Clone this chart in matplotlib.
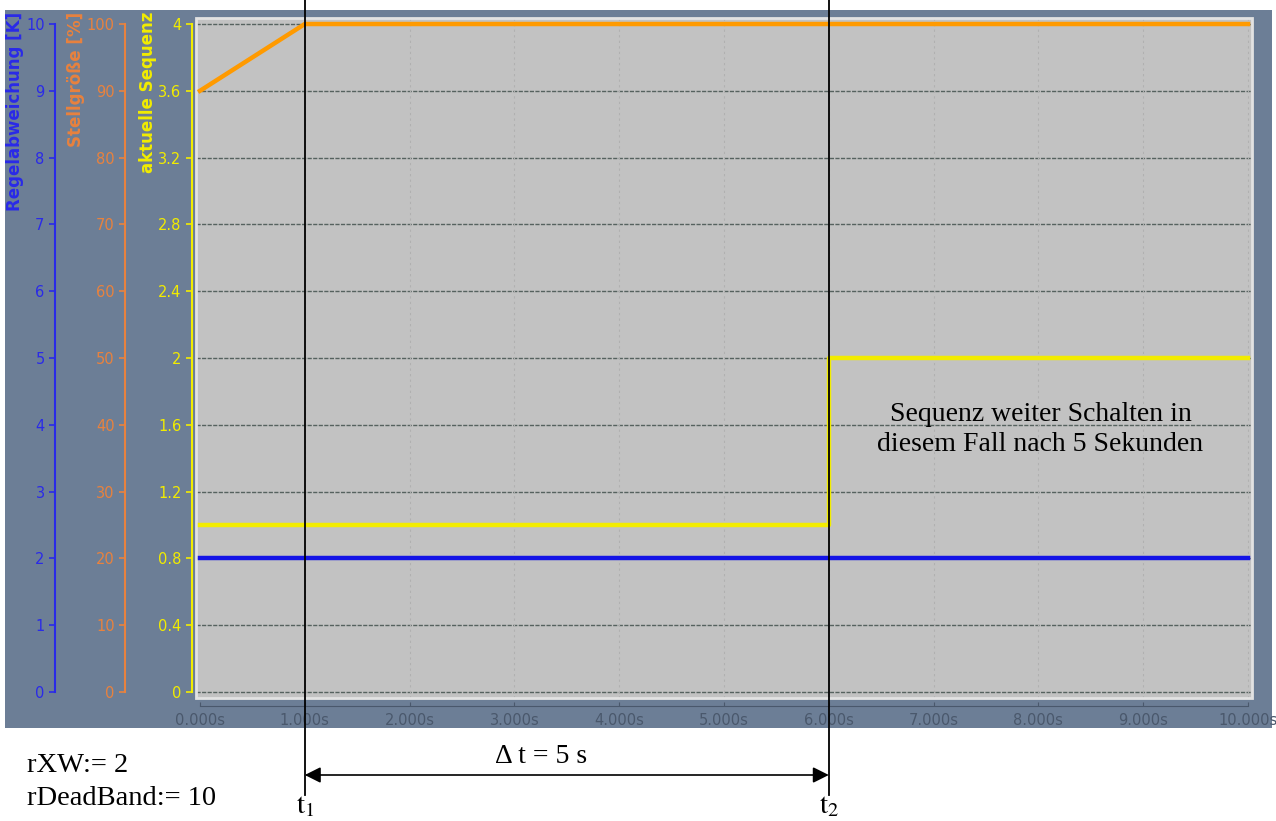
import numpy as np
import matplotlib
matplotlib.use('Agg')
import matplotlib.pyplot as plt
from matplotlib.patches import Rectangle
from matplotlib.lines import Line2D
import matplotlib.transforms as mtransforms

plt.rcParams['mathtext.fontset'] = 'stix'

# data
t_stell = [0, 1, 10]
stellgroesse = [90, 100, 100]          # %
t_regel = [0, 10]
regelabweichung = [2, 2]               # K
t_seq = [0, 6, 10]
sequenz = [1, 2, 2]
t1, t2 = 1, 6

x_ticks = np.arange(0, 11, 1)
x_ticklabels = ['%.3fs' % v for v in x_ticks]
seq_ticks = np.round(np.arange(0, 4.01, 0.4), 1)
seq_ticklabels = ['0', '0.4', '0.8', '1.2', '1.6', '2', '2.4', '2.8', '3.2', '3.6', '4']
stell_ticks = np.arange(0, 101, 10)
regel_ticks = np.arange(0, 11, 1)

W, H = 1276, 821
fig = plt.figure(figsize=(W / 100, H / 100), dpi=100)
fig.patch.set_facecolor('white')

panel = '#6c7e96'
fig.patches.append(Rectangle((5 / W, 1 - 728 / H), 1267 / W, 718 / H,
                             transform=fig.transFigure, facecolor=panel,
                             edgecolor='none', zorder=-10))

left, right, top, bottom = 196, 1252, 18, 698
ax = fig.add_axes([left / W, 1 - bottom / H, (right - left) / W, (bottom - top) / H])
ax.set_facecolor('#c2c2c2')
ax.set_xlim(-0.038, 10.038)
ax.set_ylim(-0.036, 4.036)

c_yel = '#f2ec00'
c_org = '#ff9a00'
c_blu = '#1414e6'
c_org_ax = '#e8823e'
c_blu_ax = '#2a2ae8'

# grid
for y in seq_ticks:
    ax.axhline(y, color='#56625f', lw=1.0, ls=(0, (3, 1)), zorder=1)
for x in x_ticks[1:]:
    ax.axvline(x, color='#b0b0b0', lw=0.8, ls=(0, (2, 3)), zorder=1)
ax.add_patch(Rectangle((0, 0), 1, 1, transform=ax.transAxes, fill=False,
                       edgecolor='#e2e2e2', lw=2, zorder=2, clip_on=False))

for s in ['top', 'right']:
    ax.spines[s].set_visible(False)
ax.spines['left'].set_position(('outward', 3))
ax.spines['left'].set_color(c_yel)
ax.spines['left'].set_linewidth(1.5)
ax.spines['left'].set_bounds(0, 4)
ax.spines['bottom'].set_position(('outward', 6))
ax.spines['bottom'].set_color('#4a586c')
ax.spines['bottom'].set_bounds(0, 10)
ax.set_yticks(seq_ticks)
ax.set_yticklabels(seq_ticklabels)
ax.tick_params(axis='y', colors=c_yel, labelsize=10.5, length=4, width=1.2)
ax.set_xticks(x_ticks)
ax.set_xticklabels(x_ticklabels)
ax.tick_params(axis='x', colors='#4a586c', labelsize=10.5, length=3, direction='in', pad=5)

# parasite axes
ax_stell = ax.twinx()
ax_regel = ax.twinx()
for a, frac, col, lim, ticks in [(ax_stell, (125 - left) / (right - left), c_org_ax, (-0.9, 100.9), stell_ticks),
                                  (ax_regel, (55 - left) / (right - left), c_blu_ax, (-0.09, 10.09), regel_ticks)]:
    a.set_ylim(*lim)
    a.yaxis.tick_left()
    for s in ['top', 'right', 'bottom']:
        a.spines[s].set_visible(False)
    a.spines['left'].set_visible(True)
    a.spines['left'].set_position(('axes', frac))
    a.spines['left'].set_color(col)
    a.spines['left'].set_linewidth(1.5)
    a.spines['left'].set_bounds(0, ticks[-1])
    a.set_yticks(ticks)
    a.tick_params(axis='y', colors=col, labelsize=10.5, length=4, width=1.2)

# series
ax.plot(t_seq, sequenz, drawstyle='steps-post', color=c_yel, lw=3.2, zorder=5)
ax_stell.plot(t_stell, stellgroesse, color=c_org, lw=3.2, zorder=5)
ax_regel.plot(t_regel, regelabweichung, color=c_blu, lw=3.2, zorder=5)

# axis titles
fig.text(15 / W, 1 - 12 / H, 'Regelabweichung [K]', rotation=90, ha='center', va='top',
         color=c_blu_ax, fontsize=12, fontweight='bold')
fig.text(76 / W, 1 - 12 / H, 'Stellgröße [%]', rotation=90, ha='center', va='top',
         color=c_org_ax, fontsize=12, fontweight='bold')
fig.text(148 / W, 1 - 12 / H, 'aktuelle Sequenz', rotation=90, ha='center', va='top',
         color=c_yel, fontsize=12, fontweight='bold')

# markers t1 / t2
trans = mtransforms.blended_transform_factory(ax.transData, fig.transFigure)
for t in (t1, t2):
    fig.add_artist(Line2D([t, t], [1.0, 1 - 795 / H], transform=trans, color='black', lw=1.3))
y_arr = 1 - 775 / H
ax.annotate('', xy=(t1, y_arr), xytext=(t2, y_arr), xycoords=trans, textcoords=trans,
            arrowprops=dict(arrowstyle='<|-|>', color='black', lw=1.2,
                            mutation_scale=24, shrinkA=0, shrinkB=0), annotation_clip=False)

serif = 'Liberation Serif'
fig.text(541 / W, 1 - 756 / H, 'Δ t = 5 s', ha='center', va='center', fontsize=20, family=serif)
fig.text(305 / W, 1 - 805 / H, r'$\mathrm{t}_1$', ha='center', va='center', fontsize=21)
fig.text(829 / W, 1 - 805 / H, r'$\mathrm{t}_2$', ha='center', va='center', fontsize=21)
fig.text(27 / W, 1 - 765 / H, 'rXW:= 2', ha='left', va='center', fontsize=20.5, family=serif)
fig.text(27 / W, 1 - 798 / H, 'rDeadBand:= 10', ha='left', va='center', fontsize=20.5, family=serif)

ax.text(8.02, 1.57, 'Sequenz weiter Schalten in\ndiesem Fall nach 5 Sekunden', ha='center',
        va='center', fontsize=20, family=serif, linespacing=1.25, zorder=6)

fig.savefig('out.png', dpi=100)
